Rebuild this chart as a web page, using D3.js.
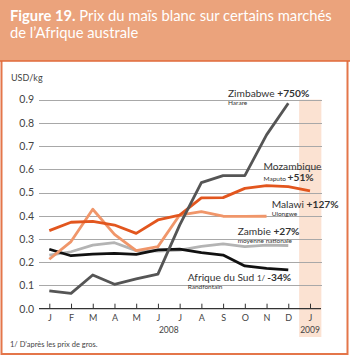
<!DOCTYPE html>
<html><head><meta charset="utf-8">
<script src="https://cdn.jsdelivr.net/npm/d3@7"></script>
<style>
body{margin:0;background:#fff;}
svg{display:block;font-family:Lato, "Open Sans", sans-serif;}
</style></head>
<body><svg id="c" width="350" height="357"></svg>
<script>
const months = ["J","F","M","A","M","J","J","A","S","O","N","D","J"];
const yTicks = [0.0,0.1,0.2,0.3,0.4,0.5,0.6,0.7,0.8,0.9];
const zimbabwe = [0.077,0.066,0.145,0.105,0.128,0.149,0.36,0.543,0.573,0.573,0.748,0.884];
const mozambique = [0.336,0.372,0.376,0.360,0.324,0.382,0.403,0.477,0.478,0.518,0.530,0.525,0.507];
const malawi = [0.213,0.289,0.428,0.320,0.250,0.267,0.403,0.418,0.398,0.397,0.398];
const zambie = [0.231,0.245,0.274,0.284,0.250,0.248,0.252,0.268,0.279,0.267,0.274,0.272];
const afriqueSud = [0.256,0.228,0.235,0.238,0.234,0.253,0.256,0.241,0.231,0.184,0.174,0.167];

const svg = d3.select("#c");
const idx = d3.range(months.length);
const x = d3.scalePoint().domain(idx).range([49.3, 310]);
const y = d3.scaleLinear().domain([0, 0.9]).range([308.7, 99.6]);

// title box
svg.append("rect").attr("x",0).attr("y",0).attr("width",350).attr("height",61).attr("fill","#EBA37C");
const t1 = svg.append("text").attr("x",10).attr("y",20.5).attr("fill","#fff").attr("font-size",14);
t1.append("tspan").attr("font-weight","bold").text("Figure 19.");
t1.append("tspan").text(" Prix du maïs blanc sur certains marchés");
const t2 = svg.append("text").attr("x",10).attr("y",37.5).attr("fill","#fff").attr("font-size",14).text("de l’Afrique australe");
// fit title to the reference width
const w1 = t1.node().getComputedTextLength();
const fs = Math.min(16, 14 * 322 / w1);
t1.attr("font-size", fs); t2.attr("font-size", fs);

// frame
svg.append("path").attr("d","M1.5,61 V354 H347.5 V61").attr("fill","none").attr("stroke","#E4764A").attr("stroke-width",2);
svg.append("line").attr("x1",0).attr("x2",350).attr("y1",61).attr("y2",61).attr("stroke","#E06A3A").attr("stroke-width",1.5);

// shaded band for 2009
const step = x.step();
svg.append("rect").attr("x",x(12)-step/2).attr("y",y(0.9)).attr("width",step+0.5).attr("height",337-y(0.9)).attr("fill","#FBE2D2");

// gridlines
svg.append("g").selectAll("line").data(yTicks.filter(d=>d>0)).join("line")
  .attr("x1",39).attr("x2",322).attr("y1",d=>Math.round(y(d))+0.5).attr("y2",d=>Math.round(y(d))+0.5)
  .attr("stroke","#a8a8a8").attr("stroke-width",1);

// y labels
svg.append("g").selectAll("text").data(yTicks).join("text")
  .attr("x",34).attr("y",d=>y(d)+3.8).attr("text-anchor","end").attr("font-size",10.5).attr("fill","#444")
  .text(d=>d3.format(".1f")(d));
svg.append("text").attr("x",11).attr("y",80.5).attr("font-size",9).attr("fill","#444").text("USD/kg");

// x axis
const xAxis = d3.axisBottom(x).tickSize(-5).tickFormat(i=>months[i]).tickPadding(6);
const ax = svg.append("g").attr("transform","translate(0,308.7)").call(xAxis);
ax.select(".domain").remove();
ax.selectAll(".tick line").attr("stroke","#333").attr("stroke-width",1);
ax.selectAll(".tick text").attr("font-size",9).attr("fill","#444").attr("font-family","Lato, sans-serif");
svg.append("line").attr("x1",39).attr("x2",321).attr("y1",308.7).attr("y2",308.7).attr("stroke","#333").attr("stroke-width",1.3);
svg.append("text").attr("x",(x(0)+x(11))/2).attr("y",332.5).attr("text-anchor","middle").attr("font-size",8.5).attr("fill","#444").text("2008");
svg.append("text").attr("x",x(12)).attr("y",332.5).attr("text-anchor","middle").attr("font-size",8.5).attr("fill","#444").text("2009");

// lines
const line = d3.line().x((d,i)=>x(i)).y(d=>y(d));
const series = [
  {v:zambie, c:"#b4b4b4"},
  {v:afriqueSud, c:"#111"},
  {v:malawi, c:"#F0966A"},
  {v:mozambique, c:"#E2561E"},
  {v:zimbabwe, c:"#555"}
];
svg.append("g").selectAll("path").data(series).join("path")
  .attr("d",d=>line(d.v)).attr("fill","none").attr("stroke",d=>d.c).attr("stroke-width",2.8)
  .attr("stroke-linejoin","round");

// labels
function label(xp, yp, main, bold, sub, subDy, extra){
  const t = svg.append("text").attr("x",xp).attr("y",yp).attr("font-size",10.2).attr("fill","#333");
  t.append("tspan").text(main);
  if(extra) t.append("tspan").attr("font-size",8).text(extra);
  if(bold) t.append("tspan").attr("font-weight","bold").text(bold);
  if(sub) svg.append("text").attr("x",xp).attr("y",yp+subDy).attr("font-size",6.5).attr("fill","#333").text(sub);
}
label(228, 97.3, "Zimbabwe ", "+750%", "Harare", 8);
svg.append("text").attr("x",263.5).attr("y",169.8).attr("font-size",10.2).attr("fill","#333").text("Mozambique");
const mp = svg.append("text").attr("x",263.5).attr("y",181.2).attr("fill","#333");
mp.append("tspan").attr("font-size",6.5).text("Maputo ");
mp.append("tspan").attr("font-size",10.2).attr("font-weight","bold").text("+51%");
label(271.7, 208.3, "Malawi ", "+127%", "Ulongwe", 7.5);
label(237.7, 235, "Zambie ", "+27%", "moyenne nationale", 8);
label(187.7, 281, "Afrique du Sud ", "-34%", "Randfontain", 8.3, "1/  ");

svg.append("text").attr("x",10).attr("y",347).attr("font-size",7.5).attr("fill","#444").text("1/ D’après les prix de gros.");
</script></body></html>
